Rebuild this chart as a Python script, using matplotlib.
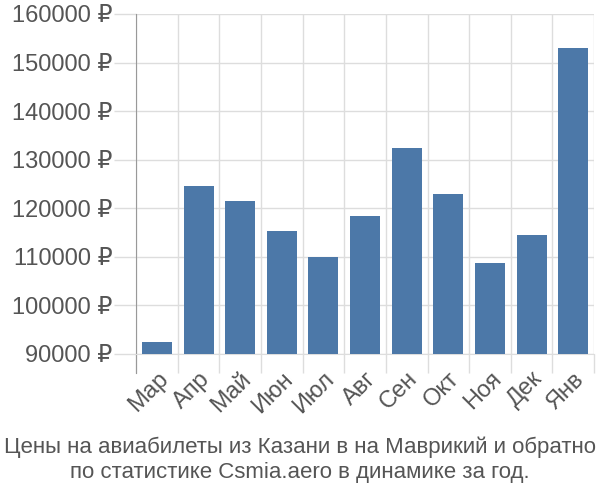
import matplotlib
matplotlib.use("Agg")
import matplotlib.pyplot as plt
import numpy as np

plt.rcParams['font.family'] = ['Liberation Sans', 'DejaVu Sans']

months = ["Мар", "Апр", "Май", "Июн", "Июл", "Авг", "Сен", "Окт", "Ноя", "Дек", "Янв"]
prices = [92500, 124600, 121600, 115400, 109900, 118400, 132400, 122900, 108800, 114600, 152900]
yticks = [90000, 100000, 110000, 120000, 130000, 140000, 150000, 160000]
title = "Цены на авиабилеты из Казани в на Маврикий и обратно\nпо статистике Csmia.aero в динамике за год."

fig = plt.figure(figsize=(6, 5), dpi=100)
ax = fig.add_axes([0.227, 0.292, 0.763, 0.68])

x = np.arange(len(months))
base = yticks[0]
ax.bar(x, np.array(prices) - base, bottom=base, width=0.72, color="#4c78a8", zorder=3)

ax.set_xlim(-0.5, len(months) - 0.5)
ax.set_ylim(yticks[0], yticks[-1])

gridc = "#dddddd"
ax.set_yticks(yticks)
ax.set_yticklabels([f"{v} ₽" for v in yticks])
ax.set_xticks(x)
ax.set_xticklabels(months, rotation=45, ha="right", rotation_mode="anchor")
ax.set_xticks(np.arange(-0.5, len(months), 1.0), minor=True)

ax.tick_params(axis="y", length=16, color=gridc, width=1, labelsize=17, labelcolor="#555555", pad=1)
ax.tick_params(axis="x", which="major", length=0, labelsize=17, labelcolor="#555555", pad=10)
ax.tick_params(axis="x", which="minor", length=14, color=gridc, width=1)

ax.grid(True, axis="y", color=gridc, linewidth=1, zorder=0)
ax.grid(True, axis="x", which="minor", color=gridc, linewidth=1, zorder=0)

for s in ["top", "right"]:
    ax.spines[s].set_visible(False)
ax.spines["bottom"].set_color(gridc)
ax.spines["left"].set_color("#999999")
ax.spines["left"].set_bounds(yticks[0] - 4000, yticks[-1])

fig.text(0.5, 0.08, title, ha="center", va="center", fontsize=16, color="#555555", linespacing=1.25)

fig.savefig("out.png", dpi=100)
